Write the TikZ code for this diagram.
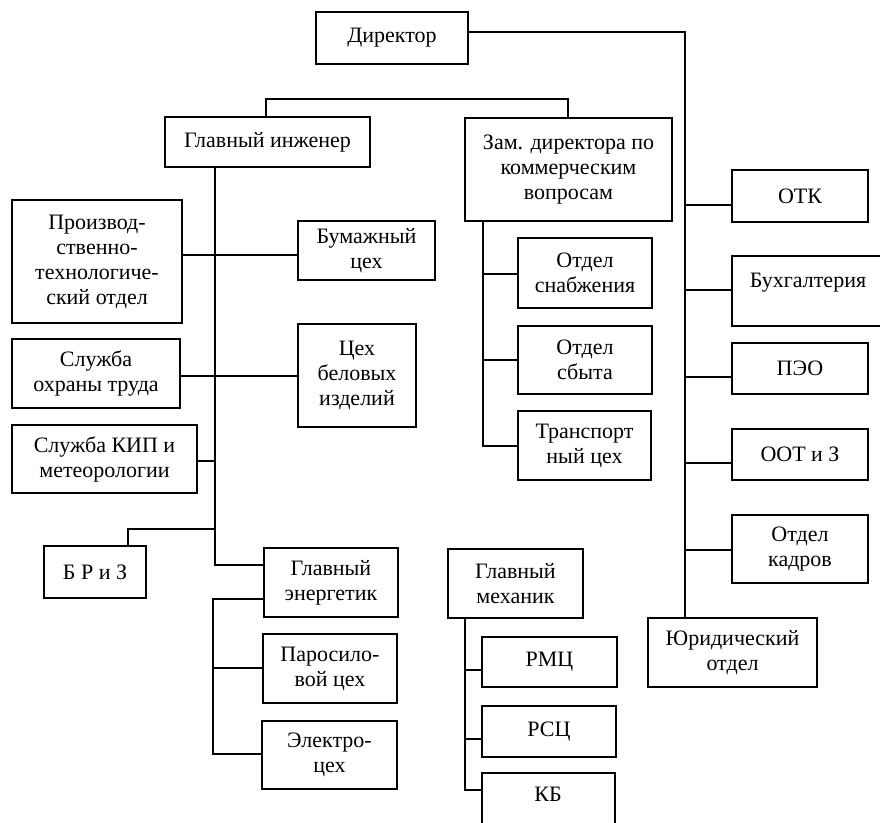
\documentclass[tikz,border=0pt]{standalone}
\usepackage{fontspec}
\setmainfont{Liberation Serif}
\newcommand{\orgbox}[6]{\node[orgb, minimum width={(#4-#2)*0.75pt}, minimum height={(#5-#3)*0.75pt}] (#1) at ({(#2+#4)/2},{(#3+#5)/2}) {#6};}
\begin{document}
\begin{tikzpicture}[x=0.75pt,y=-0.75pt,
  orgb/.style={draw, line width=1pt, inner sep=0pt, align=center, font=\fontsize{16.5}{18.75}\selectfont},
  conn/.style={line width=1pt}]
\useasboundingbox (0,0) rectangle (880,822);
% top
\orgbox{dir}{316}{12}{468}{64}{Директор}
\orgbox{gi}{165}{117}{370}{167}{Главный инженер}
\orgbox{zam}{465}{118}{672}{221}{Зам. директора по\\коммерческим\\вопросам}
% left column
\orgbox{ptd}{12}{200}{182}{323}{Производ-\\ственно-\\технологиче-\\ский отдел}
\orgbox{sot}{12}{339}{180}{408}{Служба\\охраны труда}
\orgbox{kip}{12}{425}{197}{493}{Служба КИП и\\метеорологии}
\orgbox{briz}{44}{546}{146}{598}{Б Р и З}
% middle of chief engineer
\orgbox{bum}{298}{221}{435}{280}{Бумажный\\цех}
\orgbox{cbi}{298}{324}{416}{427}{Цех\\беловых\\изделий}
\orgbox{ge}{264}{548}{398}{617}{Главный\\энергетик}
\orgbox{par}{263}{634}{397}{703}{Паросило-\\вой цех}
\orgbox{el}{262}{721}{397}{789}{Электро-\\цех}
% commercial
\orgbox{sn}{518}{238}{652}{308}{Отдел\\снабжения}
\orgbox{sb}{518}{326}{652}{394}{Отдел\\сбыта}
\orgbox{tr}{518}{411}{651}{480}{Транспорт\\ный цех}
% mechanic
\orgbox{gm}{448}{549}{583}{618}{Главный\\механик}
\orgbox{rmc}{482}{637}{617}{687}{РМЦ}
\orgbox{rsc}{482}{706}{616}{757}{РСЦ}
\node[orgb, minimum width={(615-482)*0.75pt}, minimum height={(835-773)*0.75pt}] (kb) at ({(482+615)/2},{(773+835)/2}) {};
\node[font=\fontsize{16.5}{18.75}\selectfont, inner sep=0pt] (kbt) at (548,794) {КБ};
% right column
\orgbox{otk}{732}{170}{868}{222}{ОТК}
\node[orgb, minimum width={(900-732)*0.75pt}, minimum height={(326-256)*0.75pt}] (buh) at ({(732+900)/2},{(256+326)/2}) {};
\node[font=\fontsize{16.5}{18.75}\selectfont, inner sep=0pt] (buht) at (808,283) {Бухгалтерия};
\orgbox{peo}{732}{343}{868}{394}{ПЭО}
\orgbox{oot}{732}{429}{868}{480}{ООТ и З}
\orgbox{kad}{732}{515}{868}{583}{Отдел\\кадров}
\orgbox{yur}{648}{618}{817}{687}{Юридический\\отдел}
% coordinates
\coordinate (dr) at (685,32);
\coordinate (bl) at (266,99);
\coordinate (br) at (568,99);
\coordinate (gv) at (215,565);
\coordinate (ev) at (213,599);
\coordinate (zv) at (483,446);
\coordinate (mv) at (465,790);
\coordinate (bz) at (128,529);
% connectors
\draw[conn] (dir.east |- dr) -- (dr) -- (dr |- yur.north);
\draw[conn] (bl |- gi.north) -- (bl) -- (br) -- (br |- zam.north);
\draw[conn] (gi.south -| gv) -- (gv) -- (gv -| ge.west);
\draw[conn] (ptd.east |- 0,255) -- (bum.west |- 0,255);
\draw[conn] (sot.east |- 0,376) -- (cbi.west |- 0,376);
\draw[conn] (kip.east |- 0,461) -- (gv |- 0,461);
\draw[conn] (gv |- bz) -- (bz) -- (bz |- briz.north);
\draw[conn] (ge.west |- ev) -- (ev) -- (ev |- 0,754) -- (el.west |- 0,754);
\draw[conn] (ev |- 0,668) -- (par.west |- 0,668);
\draw[conn] (zam.south -| zv) -- (zv) -- (tr.west |- zv);
\draw[conn] (zv |- 0,274) -- (sn.west |- 0,274);
\draw[conn] (zv |- 0,360) -- (sb.west |- 0,360);
\draw[conn] (gm.south -| mv) -- (mv) -- (kb.west |- mv);
\draw[conn] (mv |- 0,670) -- (rmc.west |- 0,670);
\draw[conn] (mv |- 0,739) -- (rsc.west |- 0,739);
\draw[conn] (dr |- 0,205) -- (otk.west |- 0,205);
\draw[conn] (dr |- 0,290) -- (buh.west |- 0,290);
\draw[conn] (dr |- 0,377) -- (peo.west |- 0,377);
\draw[conn] (dr |- 0,463) -- (oot.west |- 0,463);
\draw[conn] (dr |- 0,550) -- (kad.west |- 0,550);
\end{tikzpicture}
\end{document}
